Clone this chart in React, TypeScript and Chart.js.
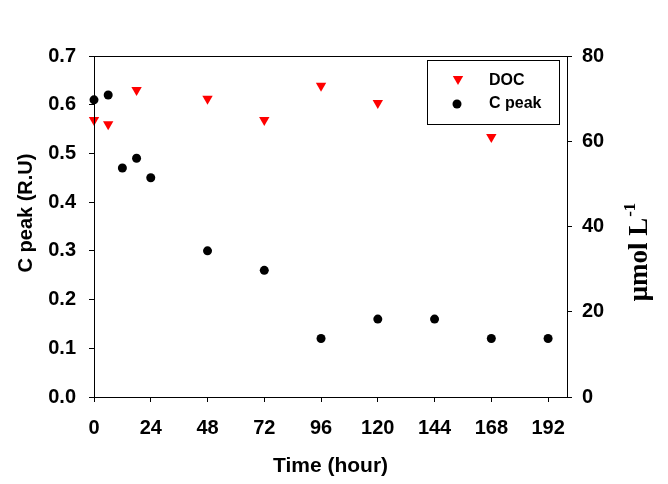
import React, { useEffect, useRef } from "react";
import { Chart, registerables } from "chart.js";

Chart.register(...registerables);

const timeDOC = [0, 6, 18, 48, 72, 96, 120, 168];
const docValues = [65, 64, 72, 70, 65, 73, 69, 61];
const timeCpeak = [0, 6, 12, 18, 24, 48, 72, 96, 120, 144, 168, 192];
const cpeakValues = [0.61, 0.62, 0.47, 0.49, 0.45, 0.3, 0.26, 0.12, 0.16, 0.16, 0.12, 0.12];
const xTicks = [0, 24, 48, 72, 96, 120, 144, 168, 192];
const leftTicks = [0, 0.1, 0.2, 0.3, 0.4, 0.5, 0.6, 0.7];
const rightTicks = [0, 20, 40, 60, 80];

const SANS = "Arial, 'Liberation Sans', sans-serif";
const SERIF = "'Times New Roman', 'Liberation Serif', serif";

const decorPlugin = {
  id: "decor",
  afterDraw(chart: any) {
    const { ctx, chartArea } = chart;
    const { left, right, top, bottom } = chartArea;
    ctx.save();
    // frame
    ctx.strokeStyle = "#000";
    ctx.lineWidth = 1;
    ctx.strokeRect(Math.round(left) + 0.5, Math.round(top) + 0.5, Math.round(right - left), Math.round(bottom - top));

    // left title
    ctx.fillStyle = "#000";
    ctx.save();
    ctx.translate(26, 213);
    ctx.rotate(-Math.PI / 2);
    ctx.font = `bold 20px ${SANS}`;
    ctx.textAlign = "center";
    ctx.textBaseline = "middle";
    ctx.fillText("C peak (R.U)", 0, 0);
    ctx.restore();

    // right title with superscript
    ctx.save();
    ctx.translate(638, 252);
    ctx.rotate(-Math.PI / 2);
    const mainFont = `bold 27px ${SERIF}`;
    const supFont = `bold 17px ${SERIF}`;
    ctx.font = mainFont;
    const mainText = "\u03bcmol L";
    const mw = ctx.measureText(mainText).width;
    ctx.font = supFont;
    const supText = "-1";
    const sw = ctx.measureText(supText).width;
    const start = -(mw + sw + 1) / 2;
    ctx.textAlign = "left";
    ctx.textBaseline = "alphabetic";
    ctx.font = mainFont;
    ctx.fillText(mainText, start, 9);
    ctx.font = supFont;
    ctx.fillText(supText, start + mw + 1, -3);
    ctx.restore();

    // legend
    const bx = 427, by = 60, bw = 132, bh = 64;
    ctx.fillStyle = "#fff";
    ctx.fillRect(bx, by, bw, bh);
    ctx.strokeStyle = "#000";
    ctx.lineWidth = 1;
    ctx.strokeRect(bx + 0.5, by + 0.5, bw, bh);
    const ds0 = chart.data.datasets[0];
    const ds1 = chart.data.datasets[1];
    // triangle (downward)
    ctx.fillStyle = ds0.backgroundColor;
    ctx.beginPath();
    const tx = 458, ty = 79, r = 6;
    ctx.moveTo(tx - r * Math.sin(Math.PI / 3), ty - r / 2);
    ctx.lineTo(tx + r * Math.sin(Math.PI / 3), ty - r / 2);
    ctx.lineTo(tx, ty + r);
    ctx.closePath();
    ctx.fill();
    // circle
    ctx.fillStyle = ds1.backgroundColor;
    ctx.beginPath();
    ctx.arc(457, 104, 4.5, 0, Math.PI * 2);
    ctx.fill();
    ctx.fillStyle = "#000";
    ctx.font = `bold 16px ${SANS}`;
    ctx.textAlign = "left";
    ctx.textBaseline = "middle";
    ctx.fillText(ds0.label, 489, 81);
    ctx.fillText(ds1.label, 489, 104);
    ctx.restore();
  },
};

export default function App() {
  const ref = useRef<HTMLCanvasElement | null>(null);
  useEffect(() => {
    if (!ref.current) return;
    const tickFont = { family: SANS, size: 20, weight: "bold" as const };
    const chart = new Chart(ref.current, {
      type: "scatter",
      data: {
        datasets: [
          {
            label: "DOC",
            data: timeDOC.map((t, i) => ({ x: t, y: docValues[i] })),
            yAxisID: "y2",
            pointStyle: "triangle",
            rotation: 180,
            radius: 6,
            backgroundColor: "#ff0000",
            borderColor: "#ff0000",
            borderWidth: 0,
            clip: false,
          },
          {
            label: "C peak",
            data: timeCpeak.map((t, i) => ({ x: t, y: cpeakValues[i] })),
            yAxisID: "y",
            pointStyle: "circle",
            radius: 4.5,
            backgroundColor: "#000",
            borderColor: "#000",
            borderWidth: 0,
            clip: false,
          },
        ],
      },
      options: {
        responsive: false,
        animation: false,
        layout: { padding: { top: 56, left: 0, right: 0, bottom: 0 } },
        plugins: {
          legend: { display: false },
          tooltip: { enabled: false },
        },
        scales: {
          x: {
            type: "linear",
            position: "bottom",
            min: 0,
            max: 200,
            afterBuildTicks: (s: any) => {
              s.ticks = xTicks.map((v) => ({ value: v }));
            },
            afterFit: (s: any) => {
              s.height = 87;
            },
            grid: { display: true, drawOnChartArea: false, drawTicks: true, tickLength: 5, color: "#000", lineWidth: 1 },
            border: { display: true, color: "#000", width: 1 },
            ticks: { font: tickFont, color: "#000", padding: 14, maxRotation: 0, autoSkip: false },
            title: {
              display: true,
              text: "Time (hour)",
              font: { family: SANS, size: 21, weight: "bold" },
              color: "#000",
              padding: { top: 0, bottom: 5 },
            },
          },
          y: {
            type: "linear",
            position: "left",
            min: 0,
            max: 0.7,
            afterBuildTicks: (s: any) => {
              s.ticks = leftTicks.map((v) => ({ value: v }));
            },
            afterFit: (s: any) => {
              s.width = 94;
            },
            grid: { display: true, drawOnChartArea: false, drawTicks: true, tickLength: 5, color: "#000", lineWidth: 1 },
            border: { display: true, color: "#000", width: 1 },
            ticks: {
              font: tickFont,
              color: "#000",
              padding: 13,
              autoSkip: false,
              callback: (v: any) => Number(v).toFixed(1),
            },
          },
          y2: {
            type: "linear",
            position: "right",
            min: 0,
            max: 80,
            afterBuildTicks: (s: any) => {
              s.ticks = rightTicks.map((v) => ({ value: v }));
            },
            afterFit: (s: any) => {
              s.width = 101;
            },
            grid: { display: true, drawOnChartArea: false, drawTicks: true, tickLength: 5, color: "#000", lineWidth: 1 },
            border: { display: true, color: "#000", width: 1 },
            ticks: { font: tickFont, color: "#000", padding: 10, autoSkip: false },
          },
        },
      },
      plugins: [decorPlugin],
    });
    return () => chart.destroy();
  }, []);
  return (
    <div style={{ position: "fixed", left: 0, top: 0, width: 668, height: 484, background: "#fff" }}>
      <canvas ref={ref} width={668} height={484} style={{ display: "block" }} />
    </div>
  );
}
